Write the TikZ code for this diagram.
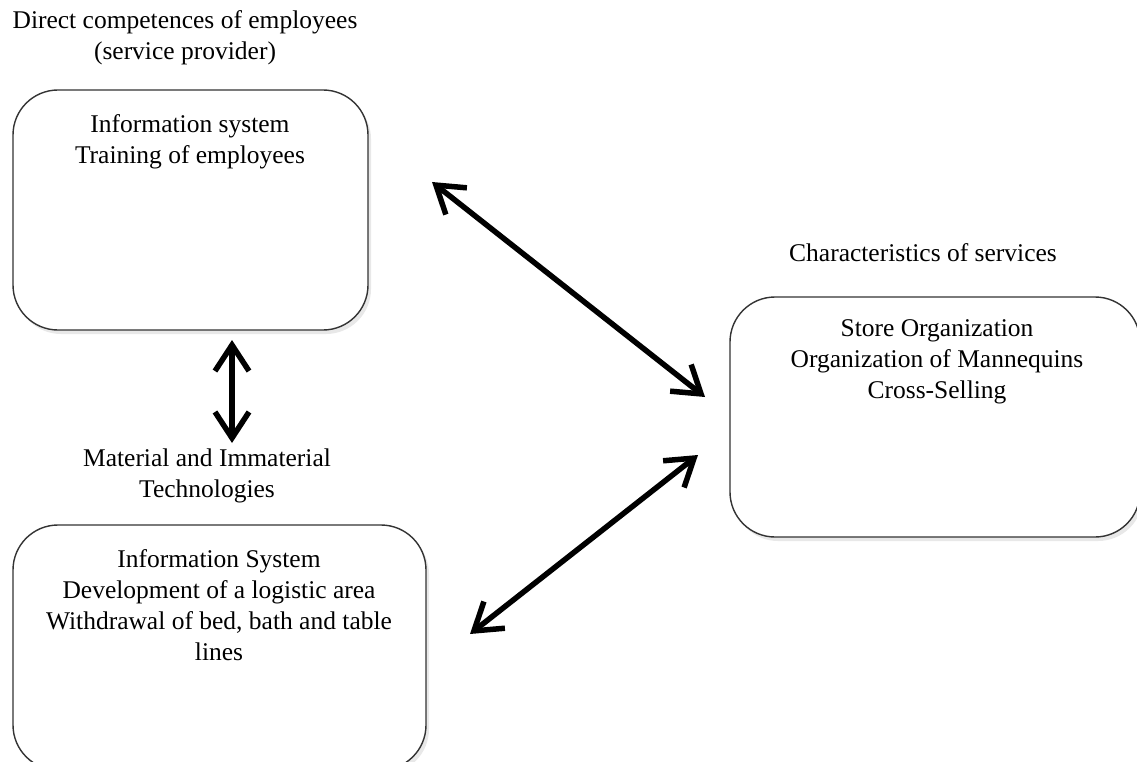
\documentclass[tikz,border=0pt]{standalone}
\usepackage{fontspec}
\setmainfont{Liberation Serif}
\usetikzlibrary{arrows.meta,shadows}
\begin{document}
\begin{tikzpicture}[x=1pt,y=-1pt,
  box/.style={draw=black!80, line width=1.4pt, rounded corners=45pt, fill=white,
    drop shadow={opacity=0.18, shadow xshift=3pt, shadow yshift=-4pt}},
  txt/.style={align=center, font=\fontsize{25.5}{31}\selectfont, inner sep=0pt},
  dbl/.style={line width=5.5pt, black, {Straight Barb[length=26pt,width=34pt]}-{Straight Barb[length=26pt,width=34pt]}}]
\useasboundingbox (0,0) rectangle (1137,762);
\clip (0,0) rectangle (1137,762);
% boxes
\node[box, minimum width=355pt, minimum height=240pt] (b1) at (190.5,210) {};
\node[box, minimum width=413pt, minimum height=245pt] (b2) at (219.5,647.5) {};
\node[box, minimum width=410pt, minimum height=240pt] (b3) at (935,417) {};
% labels
\node[txt] (l1) at (185,38) {Direct competences of employees\\(service provider)};
\node[txt] (l2) at (207,476) {Material and Immaterial\\Technologies};
\node[txt] (l3) at (923,253) {Characteristics of services};
% box texts
\node[txt] (t1) at (190,142) {Information system\\Training of employees};
\node[txt] (t2) at (219,605) {Information System\\Development of a logistic area\\Withdrawal of bed, bath and table\\lines};
\node[txt] (t3) at (937,362) {Store Organization\\Organization of Mannequins\\Cross-Selling};
% arrow ends
\coordinate (a1s) at (232,340);
\coordinate (a1e) at (232,443);
\coordinate (a2s) at (432,182);
\coordinate (a2e) at (705,397);
\coordinate (a3s) at (470,634);
\coordinate (a3e) at (698,455);
\draw[dbl] (a1s) -- (a1e);
\draw[dbl] (a2s) -- (a2e);
\draw[dbl] (a3s) -- (a3e);
\end{tikzpicture}
\end{document}
